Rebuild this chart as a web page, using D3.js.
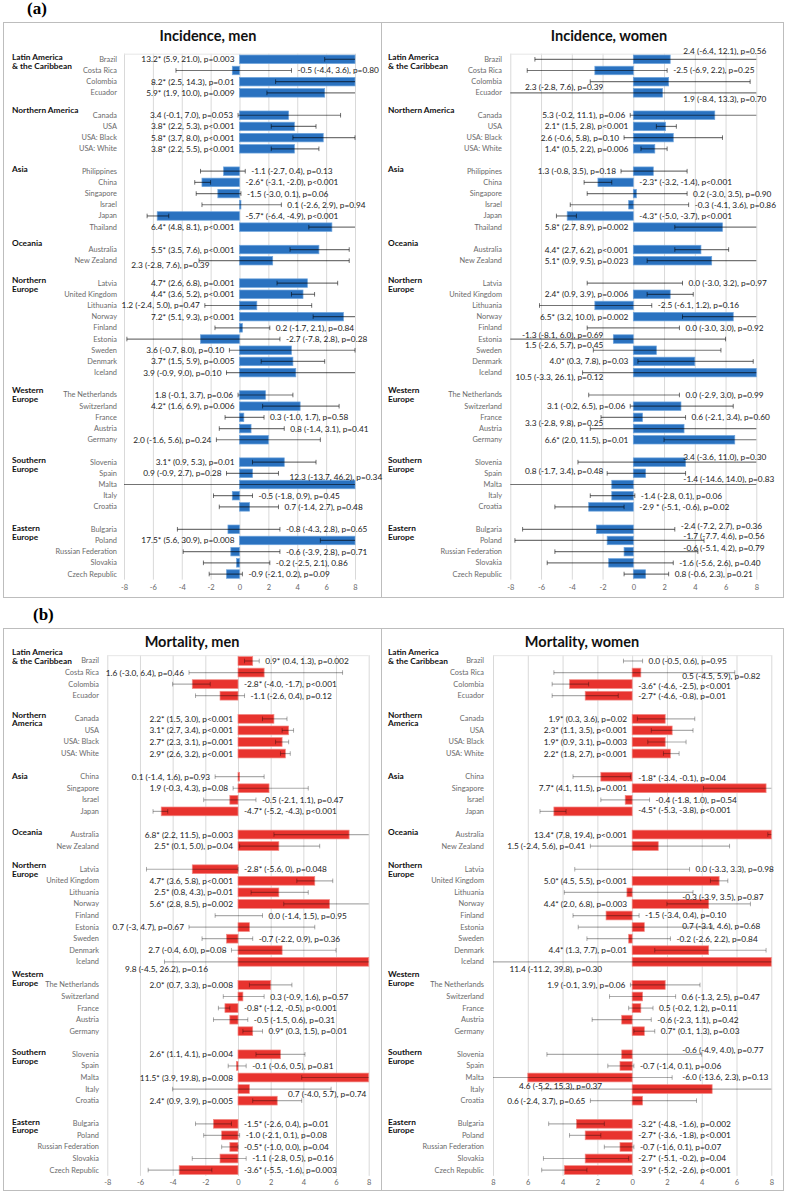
<!DOCTYPE html>
<html><head><meta charset="utf-8">
<script src="https://cdnjs.cloudflare.com/ajax/libs/d3/7.8.5/d3.min.js"></script>
<style>body{margin:0;background:#fff}svg{display:block}</style>
</head><body>
<svg id="c" width="787" height="1194"></svg>
<script>
// ---------------- DATA ----------------
const incGroups = ["Latin America & the Caribbean","Northern America","Asia","Oceania","Northern Europe","Western Europe","Southern Europe","Eastern Europe"];
const incGroupCounts = [4,4,6,2,9,5,5,5];
const incGroupLabels = ["Latin America\n& the Caribbean","Northern America","Asia","Oceania","Northern\nEurope","Western\nEurope","Southern\nEurope","Eastern\nEurope"];
const incCountries = ["Brazil","Costa Rica","Colombia","Ecuador",
  "Canada","USA","USA: Black","USA: White",
  "Philippines","China","Singapore","Israel","Japan","Thailand",
  "Australia","New Zealand",
  "Latvia","United Kingdom","Lithuania","Norway","Finland","Estonia","Sweden","Denmark","Iceland",
  "The Netherlands","Switzerland","France","Austria","Germany",
  "Slovenia","Spain","Malta","Italy","Croatia",
  "Bulgaria","Poland","Russian Federation","Slovakia","Czech Republic"];

const morGroups = incGroups;
const morGroupCounts = [4,4,4,2,9,5,5,5];
const morGroupLabels = ["Latin America\n& the Caribbean","Northern\nAmerica","Asia","Oceania","Northern\nEurope","Western\nEurope","Southern\nEurope","Eastern\nEurope"];
const morCountries = ["Brazil","Costa Rica","Colombia","Ecuador",
  "Canada","USA","USA: Black","USA: White",
  "China","Singapore","Israel","Japan",
  "Australia","New Zealand",
  "Latvia","United Kingdom","Lithuania","Norway","Finland","Estonia","Sweden","Denmark","Iceland",
  "The Netherlands","Switzerland","France","Austria","Germany",
  "Slovenia","Spain","Malta","Italy","Croatia",
  "Bulgaria","Poland","Russian Federation","Slovakia","Czech Republic"];

const tickValues = [-8,-6,-4,-2,0,2,4,6,8];
const tickLabelsSigned = ["-8","-6","-4","-2","0","2","4","6","8"];
const tickLabelsUnsigned = ["8","6","4","2","0","2","4","6","8"];

// Incidence, men
const incMenEst = [13.2,-0.5,8.2,5.9, 3.4,3.8,5.8,3.8, -1.1,-2.6,-1.5,0.1,-5.7,6.4, 5.5,2.3, 4.7,4.4,1.2,7.2,0.2,-2.7,3.6,3.7,3.9, 1.8,4.2,0.3,0.8,2.0, 3.1,0.9,12.3,-0.5,0.7, -0.8,17.5,-0.6,-0.2,-0.9];
const incMenLo  = [5.9,-4.4,2.5,1.9, -0.1,2.2,3.7,2.2, -2.7,-3.1,-3.0,-2.6,-6.4,4.8, 3.5,-2.8, 2.6,3.6,-2.4,5.1,-1.7,-7.8,-0.7,1.5,-0.9, -0.1,1.6,-1.0,-1.4,-1.6, 0.9,-0.9,-13.7,-1.8,-1.4, -4.3,5.6,-3.9,-2.5,-2.1];
const incMenHi  = [21.0,3.6,14.3,10.0, 7.0,5.3,8.0,5.5, 0.4,-2.0,0.1,2.9,-4.9,8.1, 7.6,7.6, 6.8,5.2,5.0,9.3,2.1,2.8,8.0,5.9,9.0, 3.7,6.9,1.7,3.1,5.6, 5.3,2.7,46.2,0.9,2.7, 2.8,30.9,2.8,2.1,0.2];
const incMenText = ["13.2* (5.9, 21.0), p=0.003","-0.5 (-4.4, 3.6), p=0.80","8.2* (2.5, 14.3), p=0.01","5.9* (1.9, 10.0), p=0.009",
  "3.4 (-0.1, 7.0), p=0.053","3.8* (2.2, 5.3), p<0.001","5.8* (3.7, 8.0), p<0.001","3.8* (2.2, 5.5), p<0.001",
  "-1.1 (-2.7, 0.4), p=0.13","-2.6* (-3.1, -2.0), p<0.001","-1.5 (-3.0, 0.1), p=0.06","0.1 (-2.6, 2.9), p=0.94","-5.7* (-6.4, -4.9), p<0.001","6.4* (4.8, 8.1), p<0.001",
  "5.5* (3.5, 7.6), p<0.001","2.3 (-2.8, 7.6), p=0.39",
  "4.7* (2.6, 6.8), p=0.001","4.4* (3.6, 5.2), p<0.001","1.2 (-2.4, 5.0), p=0.47","7.2* (5.1, 9.3), p<0.001","0.2 (-1.7, 2.1), p=0.84","-2.7 (-7.8, 2.8), p=0.28","3.6 (-0.7, 8.0), p=0.10","3.7* (1.5, 5.9), p=0.005","3.9 (-0.9, 9.0), p=0.10",
  "1.8 (-0.1, 3.7), p=0.06","4.2* (1.6, 6.9), p=0.006","0.3 (-1.0, 1.7), p=0.58","0.8 (-1.4, 3.1), p=0.41","2.0 (-1.6, 5.6), p=0.24",
  "3.1* (0.9, 5.3), p=0.01","0.9 (-0.9, 2.7), p=0.28","12.3 (-13.7, 46.2), p=0.34","-0.5 (-1.8, 0.9), p=0.45","0.7 (-1.4, 2.7), p=0.48",
  "-0.8 (-4.3, 2.8), p=0.65","17.5* (5.6, 30.9), p=0.008","-0.6 (-3.9, 2.8), p=0.71","-0.2 (-2.5, 2.1), 0.86","-0.9 (-2.1, 0.2), p=0.09"];

// Incidence, women
const incWomEst = [2.4,-2.5,2.3,1.9, 5.3,2.1,2.6,1.4, 1.3,-2.3,0.2,-0.3,-4.3,5.8, 4.4,5.1, 0.0,2.4,-2.5,6.5,0.0,-1.3,1.5,4.0,10.5, 0.0,3.1,0.6,3.3,6.6, 3.4,0.8,-1.4,-1.4,-2.9, -2.4,-1.7,-0.6,-1.6,0.8];
const incWomLo  = [-6.4,-6.9,-2.8,-8.4, -0.2,1.5,-0.6,0.5, -0.8,-3.2,-3.0,-4.1,-5.0,2.7, 2.7,0.9, -3.0,0.9,-6.1,3.2,-3.0,-8.1,-2.6,0.3,-3.3, -2.9,-0.2,-2.1,-2.8,2.0, -3.6,-1.7,-14.6,-2.8,-5.1, -7.2,-7.7,-5.1,-5.6,-0.6];
const incWomHi  = [12.1,2.2,7.6,13.3, 11.1,2.8,5.8,2.2, 3.5,-1.4,3.5,3.6,-3.7,8.9, 6.2,9.5, 3.2,3.9,1.2,10.0,3.0,6.0,5.7,7.8,26.1, 3.0,6.5,3.4,9.8,11.5, 11.0,3.4,14.0,0.1,-0.6, 2.7,4.6,4.2,2.6,2.3];
const incWomText = ["2.4 (-6.4, 12.1), p=0.56","-2.5 (-6.9, 2.2), p=0.25","2.3 (-2.8, 7.6), p=0.39","1.9 (-8.4, 13.3), p=0.70",
  "5.3 (-0.2, 11.1), p=0.06","2.1* (1.5, 2.8), p<0.001","2.6 (-0.6, 5.8), p=0.10","1.4* (0.5, 2.2), p=0.006",
  "1.3 (-0.8, 3.5), p=0.18","-2.3* (-3.2, -1.4), p<0.001","0.2 (-3.0, 3.5), p=0.90","-0.3 (-4.1, 3.6), p=0.86","-4.3* (-5.0, -3.7), p<0.001","5.8* (2.7, 8.9), p=0.002",
  "4.4* (2.7, 6.2), p<0.001","5.1* (0.9, 9.5), p=0.023",
  "0.0 (-3.0, 3.2), p=0.97","2.4* (0.9, 3.9), p=0.006","-2.5 (-6.1, 1.2), p=0.16","6.5* (3.2, 10.0), p=0.002","0.0 (-3.0, 3.0), p=0.92","-1.3 (-8.1, 6.0), p=0.69","1.5 (-2.6, 5.7), p=0.45","4.0* (0.3, 7.8), p=0.03","10.5 (-3.3, 26.1), p=0.12",
  "0.0 (-2.9, 3.0), p=0.99","3.1 (-0.2, 6.5), p=0.06","0.6 (-2.1, 3.4), p=0.60","3.3 (-2.8, 9.8), p=0.25","6.6* (2.0, 11.5), p=0.01",
  "3.4 (-3.6, 11.0), p=0.30","0.8 (-1.7, 3.4), p=0.48","-1.4 (-14.6, 14.0), p=0.83","-1.4 (-2.8, 0.1), p=0.06","-2.9 * (-5.1, -0.6), p=0.02",
  "-2.4 (-7.2, 2.7), p=0.36","-1.7 (-7.7, 4.6), p=0.56","-0.6 (-5.1, 4.2), p=0.79","-1.6 (-5.6, 2.6), p=0.40","0.8 (-0.6, 2.3), p=0.21"];

// Mortality, men
const morMenEst = [0.9,1.6,-2.8,-1.1, 2.2,3.1,2.7,2.9, 0.1,1.9,-0.5,-4.7, 6.8,2.5, -2.8,4.7,2.5,5.6,0.0,0.7,-0.7,2.7,9.8, 2.0,0.3,-0.8,-0.5,0.9, 2.6,-0.1,11.5,0.7,2.4, -1.5,-1.0,-0.5,-1.1,-3.6];
const morMenLo  = [0.4,-3.0,-4.0,-2.6, 1.5,2.7,2.3,2.6, -1.4,-0.3,-2.1,-5.2, 2.2,0.1, -5.6,3.6,0.8,2.8,-1.4,-3.0,-2.2,-0.4,-4.5, 0.7,-0.9,-1.2,-1.5,0.3, 1.1,-0.6,3.9,-4.0,0.9, -2.6,-2.1,-1.0,-2.8,-5.5];
const morMenHi  = [1.3,6.4,-1.7,0.4, 3.0,3.4,3.1,3.2, 1.6,4.3,1.1,-4.3, 11.5,5.0, 0.0,5.8,4.3,8.5,1.5,4.7,0.9,6.0,26.2, 3.3,1.6,-0.5,0.6,1.5, 4.1,0.5,19.8,5.7,3.9, -0.4,0.1,0.0,0.5,-1.6];
const morMenText = ["0.9* (0.4, 1.3), p=0.002","1.6 (-3.0, 6.4), p=0.46","-2.8* (-4.0, -1.7), p<0.001","-1.1 (-2.6, 0.4), p=0.12",
  "2.2* (1.5, 3.0), p<0.001","3.1* (2.7, 3.4), p<0.001","2.7* (2.3, 3.1), p=0.001","2.9* (2.6, 3.2), p<0.001",
  "0.1 (-1.4, 1.6), p=0.93","1.9 (-0.3, 4.3), p=0.08","-0.5 (-2.1, 1.1), p=0.47","-4.7* (-5.2, -4.3), p<0.001",
  "6.8* (2.2, 11.5), p=0.003","2.5* (0.1, 5.0), p=0.04",
  "-2.8* (-5.6, 0), p=0.048","4.7* (3.6, 5.8), p<0.001","2.5* (0.8, 4.3), p=0.01","5.6* (2.8, 8.5), p=0.002","0.0 (-1.4, 1.5), p=0.95","0.7 (-3, 4.7), p=0.67","-0.7 (-2.2, 0.9), p=0.36","2.7 (-0.4, 6.0), p=0.08","9.8 (-4.5, 26.2), p=0.16",
  "2.0* (0.7, 3.3), p=0.008","0.3 (-0.9, 1.6), p=0.57","-0.8* (-1.2, -0.5), p<0.001","-0.5 (-1.5, 0.6), p=0.31","0.9* (0.3, 1.5), p=0.01",
  "2.6* (1.1, 4.1), p=0.004","-0.1 (-0.6, 0.5), p=0.81","11.5* (3.9, 19.8), p=0.008","0.7 (-4.0, 5.7), p=0.74","2.4* (0.9, 3.9), p=0.005",
  "-1.5* (-2.6, 0.4), p=0.01","-1.0 (-2.1, 0.1), p=0.08","-0.5* (-1.0, 0.0), p=0.04","-1.1 (-2.8, 0.5), p=0.16","-3.6* (-5.5, -1.6), p=0.003"];

// Mortality, women
const morWomEst = [0.0,0.5,-3.6,-2.7, 1.9,2.3,1.9,2.2, -1.8,7.7,-0.4,-4.5, 13.4,1.5, 0.0,5.0,-0.3,4.4,-1.5,0.7,-0.2,4.4,11.4, 1.9,0.6,0.5,-0.6,0.7, -0.6,-0.7,-6.0,4.6,0.6, -3.2,-2.7,-0.7,-2.7,-3.9];
const morWomLo  = [-0.5,-4.5,-4.6,-4.6, 0.3,1.1,0.9,1.8, -3.4,4.1,-1.8,-5.3, 7.8,-2.4, -3.3,4.5,-3.9,2.0,-3.4,-3.1,-2.6,1.3,-11.2, -0.1,-1.3,-0.2,-2.3,0.1, -4.9,-1.4,-13.6,-5.2,-2.4, -4.8,-3.6,-1.6,-5.1,-5.2];
const morWomHi  = [0.6,5.9,-2.5,-0.8, 3.6,3.5,3.1,2.7, -0.1,11.5,1.0,-3.8, 19.4,5.6, 3.3,5.5,3.5,6.8,0.4,4.6,2.2,7.7,39.8, 3.9,2.5,1.2,1.1,1.3, 4.0,0.1,2.3,15.3,3.7, -1.6,-1.8,0.1,-0.2,-2.6];
const morWomText = ["0.0 (-0.5, 0.6), p=0.95","0.5 (-4.5, 5.9), p=0.82","-3.6* (-4.6, -2.5), p<0.001","-2.7* (-4.6, -0.8), p=0.01",
  "1.9* (0.3, 3.6), p=0.02","2.3* (1.1, 3.5), p<0.001","1.9* (0.9, 3.1), p=0.003","2.2* (1.8, 2.7), p<0.001",
  "-1.8* (-3.4, -0.1), p=0.04","7.7* (4.1, 11.5), p=0.001","-0.4 (-1.8, 1.0), p=0.54","-4.5* (-5.3, -3.8), p<0.001",
  "13.4* (7.8, 19.4), p<0.001","1.5 (-2.4, 5.6), p=0.41",
  "0.0 (-3.3, 3.3), p=0.98","5.0* (4.5, 5.5), p<0.001","-0.3 (-3.9, 3.5), p=0.87","4.4* (2.0, 6.8), p=0.003","-1.5 (-3.4, 0.4), p=0.10","0.7 (-3.1, 4.6), p=0.68","-0.2 (-2.6, 2.2), p=0.84","4.4* (1.3, 7.7), p=0.01","11.4 (-11.2, 39.8), p=0.30",
  "1.9 (-0.1, 3.9), p=0.06","0.6 (-1.3, 2.5), p=0.47","0.5 (-0.2, 1.2), p=0.11","-0.6 (-2.3, 1.1), p=0.42","0.7* (0.1, 1.3), p=0.03",
  "-0.6 (-4.9, 4.0), p=0.77","-0.7 (-1.4, 0.1), p=0.06","-6.0 (-13.6, 2.3), p=0.13","4.6 (-5.2, 15.3), p=0.37","0.6 (-2.4, 3.7), p=0.65",
  "-3.2* (-4.8, -1.6), p=0.002","-2.7* (-3.6, -1.8), p<0.001","-0.7 (-1.6, 0.1), p=0.07","-2.7* (-5.1, -0.2), p=0.04","-3.9* (-5.2, -2.6), p<0.001"];

// ---------------- ANNOTATION PLACEMENT ----------------
// L/R = side of the zero line; "f" = anchored near the zero line instead of the whisker end;
// trailing signed number = vertical nudge of the label relative to its row.
const incMenPlace = "L R L L L L L L R R R R R L L Lf+4.7 L L L L R R L L L L L R R L L L Rf-8 R R R L R R R".split(" ");
const incWomPlace = "Rf-8.5 R Lf+5.7 Rf+6 L L L L L R R R R L L L R L R L R Lf-4 Lf-5 L Lf+4.7 R L R Lf-5.3 L Rf-5 Lf-2 Rf-5.4 R R R-3 Rf-4 Rf-3.5 R R".split(" ");
const morMenPlace = "R L R R L L L L L L R R L L R L L L R L R L Lf+6.7 L R R R R L R L Rf+5 L R R R R R".split(" ");
const morWomPlace = "R Rf+3 R+1.5 R L L L L R+1 L R R-1 L L R L Rf+4.3 L R-0.5 Rf-1 R L Lf+7 L R R R R Rf-4 R Rf-1 Lf-3 L R R R R R".split(" ");

// ---------------- LAYOUT ----------------
const svg = d3.select("#c");
const FONT = "Lato, 'Open Sans', sans-serif";
const incRegionDy = [-2,-5,-2,-7,-3,-5,-2,-1];
const morRegionDy = [-9,-4,-1,-3,-4,-11,-2,-2];

const BLUE = {fill:"#2a72c0", stroke:"#6ea4dc", whisk:"rgba(0,0,0,0.55)"};
const RED  = {fill:"#e8332e", stroke:"#f28b86", whisk:"rgba(0,0,0,0.33)"};

function frame(y0, y1){
  svg.append("rect").attr("x",3.5).attr("y",y0+0.5).attr("width",780).attr("height",y1-y0)
    .attr("fill","none").attr("stroke","#bdbdbd").attr("stroke-width",1);
  svg.append("line").attr("x1",381.5).attr("x2",381.5).attr("y1",y0).attr("y2",y1)
    .attr("stroke","#bdbdbd").attr("stroke-width",1);
}
frame(22, 597);
frame(628, 1190);
svg.append("text").attr("x",27).attr("y",14).text("(a)")
  .attr("font-family","'Liberation Serif','Times New Roman',serif").attr("font-weight","bold").attr("font-size",17);
svg.append("text").attr("x",33).attr("y",620).text("(b)")
  .attr("font-family","'Liberation Serif','Times New Roman',serif").attr("font-weight","bold").attr("font-size",17);

function panel(o){
  const g = svg.append("g");
  const regionOf = [];
  o.groupCounts.forEach((n,gi)=>{ for(let k=0;k<n;k++) regionOf.push(gi); });
  const slots = [];
  let s = 0, prev = null;
  o.countries.forEach((c,i)=>{
    if(prev!==null && regionOf[i]!==prev) s++;
    slots.push(s); s++; prev = regionOf[i];
  });
  const nSlots = s;
  const x = d3.scaleLinear().domain([-8,8]).range([o.x0,o.x1]).clamp(true);
  const y = d3.scaleBand().domain(d3.range(nSlots)).range([o.yTop, o.yTop + nSlots*o.slot]).paddingInner(0.24).paddingOuter(0.12);
  const yc = i => y(slots[i]) + y.bandwidth()/2;
  const yBottom = o.yTop + nSlots*o.slot;

  g.append("text").attr("x",o.titleX).attr("y",o.titleY).attr("text-anchor","middle")
    .attr("dominant-baseline","central").attr("font-family",FONT).attr("font-weight","bold")
    .attr("font-size",14.5).attr("fill","#111").text(o.title);

  g.selectAll("line.grid").data(o.ticks).join("line").attr("class","grid")
    .attr("x1",d=>x(d)+0.5).attr("x2",d=>x(d)+0.5).attr("y1",o.yTop).attr("y2",yBottom)
    .attr("stroke","#d9d9d9").attr("stroke-width",1);
  g.append("line").attr("x1",o.x0).attr("x2",o.x1).attr("y1",o.yTop+0.5).attr("y2",o.yTop+0.5)
    .attr("stroke","#e6e6e6");

  const axis = d3.axisBottom(x).tickValues(o.ticks).tickSize(0).tickPadding(0)
    .tickFormat((d,i)=>o.tickLabels[i]);
  const ax = g.append("g").attr("transform",`translate(0,${o.tickY})`).call(axis);
  ax.select(".domain").remove();
  ax.selectAll("text").attr("font-family",FONT).attr("font-size",7.5).attr("fill","#666").attr("dy","0.35em").attr("y",0);

  g.selectAll("rect.bar").data(o.est).join("rect").attr("class","bar")
    .attr("x",(d)=>Math.min(x(0),x(d)))
    .attr("width",(d)=>Math.abs(x(d)-x(0)))
    .attr("y",(d,i)=>y(slots[i])).attr("height",y.bandwidth())
    .attr("fill",o.col.fill).attr("stroke",o.col.stroke).attr("stroke-width",0.7);

  o.est.forEach((d,i)=>{
    const l = o.lo[i], h = o.hi[i], cy = yc(i);
    g.append("line").attr("x1",x(l)).attr("x2",x(h)).attr("y1",cy).attr("y2",cy)
      .attr("stroke",o.col.whisk).attr("stroke-width",1.2);
    [l,h].forEach(v=>{
      if(v>=-8 && v<=8){
        g.append("line").attr("x1",x(v)).attr("x2",x(v)).attr("y1",cy-2.3).attr("y2",cy+2.3)
          .attr("stroke",o.col.whisk).attr("stroke-width",1);
      }
    });
  });

  g.selectAll("text.country").data(o.countries).join("text").attr("class","country")
    .attr("x",o.countryX).attr("y",(d,i)=>yc(i)).attr("text-anchor","end")
    .attr("dominant-baseline","central").attr("font-family",FONT).attr("font-size",7.4)
    .attr("fill","#6b6b6b").text(d=>d);

  o.groupLabels.forEach((lab,gi)=>{
    const lines = lab.split("\n");
    const first = regionOf.indexOf(gi);
    const t = g.append("text").attr("x",o.regionX).attr("y",yc(first)+o.regionDy[gi])
      .attr("dominant-baseline","central").attr("font-family",FONT).attr("font-weight","bold")
      .attr("font-size",8.3).attr("fill","#111");
    lines.forEach((ln,k)=>{
      t.append("tspan").attr("x",o.regionX).attr("dy",k===0?0:8.6).text(ln);
    });
  });

  o.text.forEach((txt,i)=>{
    const m = o.place[i].match(/^([LR])(f?)([+-][\d.]+)?$/);
    const side = m[1], free = m[2]==="f", dy = m[3] ? +m[3] : 0;
    let xx, anchor;
    if(side==="L"){
      anchor = "end";
      xx = free ? x(0)-30 : Math.min(x(0), x(o.lo[i])) - 5;
    } else {
      anchor = "start";
      xx = free ? x(0)+50 : Math.max(x(0), x(o.hi[i])) + 6;
    }
    g.append("text").attr("x",xx).attr("y",yc(i)+dy).attr("text-anchor",anchor)
      .attr("dominant-baseline","central").attr("font-family",FONT).attr("font-size",8.3)
      .attr("fill","#1a1a1a").text(txt);
  });
}

panel({title:"Incidence, men", titleX:208, titleY:35, x0:124, x1:355, yTop:53.7, slot:11.19, tickY:587,
  countryX:117, regionX:12, countries:incCountries, groupCounts:incGroupCounts, groupLabels:incGroupLabels, regionDy:incRegionDy,
  est:incMenEst, lo:incMenLo, hi:incMenHi, text:incMenText, place:incMenPlace,
  ticks:tickValues, tickLabels:tickLabelsSigned, col:BLUE});
panel({title:"Incidence, women", titleX:609, titleY:35, x0:510.3, x1:756.3, yTop:53.7, slot:11.19, tickY:587,
  countryX:502, regionX:388, countries:incCountries, groupCounts:incGroupCounts, groupLabels:incGroupLabels, regionDy:incRegionDy,
  est:incWomEst, lo:incWomLo, hi:incWomHi, text:incWomText, place:incWomPlace,
  ticks:tickValues, tickLabels:tickLabelsSigned, col:BLUE});
panel({title:"Mortality, men", titleX:192, titleY:641, x0:107.3, x1:368.7, yTop:655.2, slot:11.57, tickY:1182,
  countryX:99, regionX:12, countries:morCountries, groupCounts:morGroupCounts, groupLabels:morGroupLabels, regionDy:morRegionDy,
  est:morMenEst, lo:morMenLo, hi:morMenHi, text:morMenText, place:morMenPlace,
  ticks:tickValues, tickLabels:tickLabelsSigned, col:RED});
panel({title:"Mortality, women", titleX:582, titleY:641, x0:493, x1:771.3, yTop:655.2, slot:11.57, tickY:1182,
  countryX:484, regionX:388, countries:morCountries, groupCounts:morGroupCounts, groupLabels:morGroupLabels, regionDy:morRegionDy,
  est:morWomEst, lo:morWomLo, hi:morWomHi, text:morWomText, place:morWomPlace,
  ticks:tickValues, tickLabels:tickLabelsUnsigned, col:RED});
</script>
</body></html>
